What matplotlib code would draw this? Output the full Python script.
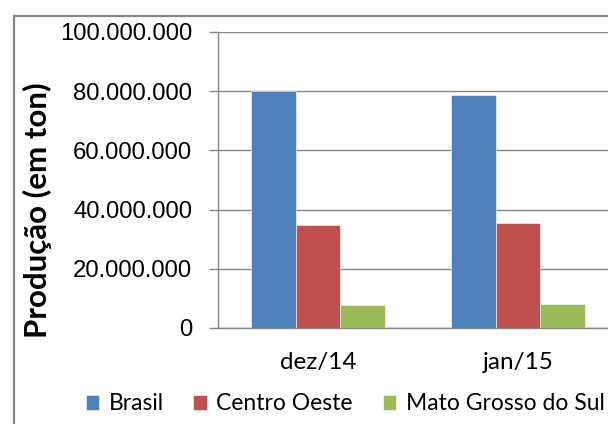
import numpy as np
import matplotlib
matplotlib.use("Agg")
import matplotlib.pyplot as plt
from matplotlib.patches import Rectangle
from matplotlib.ticker import FuncFormatter

# -----------------------------------------
# Data
# -----------------------------------------

categories = ["dez/14", "jan/15"]
series_names = ["Brasil", "Centro Oeste", "Mato Grosso do Sul"]
brasil = [80.0e6, 78.8e6]
centro_oeste = [34.7e6, 35.5e6]
mato_grosso_do_sul = [7.7e6, 8.2e6]
y_ticks = [0, 20e6, 40e6, 60e6, 80e6, 100e6]

colors = ["#4F81BD", "#C0504D", "#9BBB59"]
GRAY = "#868686"

plt.rcParams.update({
    "font.family": "Liberation Sans",
})


def fmt_thousands(v, pos):
    return f"{int(round(v)):,}".replace(",", ".")


def main():
    fig = plt.figure(figsize=(6.08, 4.24), dpi=100)

    # outer chart frame (cut at right and bottom)
    fig.patches.append(Rectangle(
        (14 / 608, -0.2), 1.2, 1.2 - 16 / 424,
        transform=fig.transFigure, fill=False,
        edgecolor=GRAY, linewidth=1.6, zorder=0
    ))

    ax = fig.add_axes([218 / 608, 1 - 328 / 424, 400 / 608, 296 / 424])

    x = np.arange(len(categories))
    width = 0.222
    values = [brasil, centro_oeste, mato_grosso_do_sul]

    bars = []
    for i, (name, vals) in enumerate(zip(series_names, values)):
        b = ax.bar(
            x + (i - 1) * width, vals, width,
            color=colors[i], edgecolor="white", linewidth=0.4,
            label=name, zorder=3
        )
        bars.append(b)

    ax.set_xlim(-0.5, 1.5)
    ax.set_ylim(0, 100e6)
    ax.set_yticks(y_ticks)
    ax.yaxis.set_major_formatter(FuncFormatter(fmt_thousands))
    ax.set_xticks(x)
    ax.set_xticklabels(categories, fontfamily="Lato", fontsize=17.5)

    ax.grid(axis="y", color=GRAY, linewidth=1.0, zorder=0)
    ax.set_axisbelow(True)

    for side in ["top", "right"]:
        ax.spines[side].set_visible(False)
    for side in ["left", "bottom"]:
        ax.spines[side].set_color(GRAY)
        ax.spines[side].set_linewidth(1.0)

    ax.tick_params(axis="y", length=6.5, width=1.0, color=GRAY,
                   labelsize=17.2, pad=12, labelcolor="black")
    ax.tick_params(axis="x", length=0, pad=17)

    fig.text(37 / 608, 1 - 210 / 424, "Produção (em ton)",
             rotation=90, ha="center", va="center",
             fontsize=22.5, fontweight="bold", fontfamily="Lato")

    fig.legend(
        handles=bars, labels=series_names,
        loc="center", bbox_to_anchor=(345 / 608, 1 - 404 / 424),
        ncol=3, frameon=False, prop={"family": "Lato", "size": 16.5},
        handlelength=0.6, handleheight=0.6, handletextpad=0.4,
        columnspacing=1.3, borderaxespad=0
    )

    fig.savefig("out.png", dpi=100)
    plt.close(fig)


if __name__ == "__main__":
    main()
